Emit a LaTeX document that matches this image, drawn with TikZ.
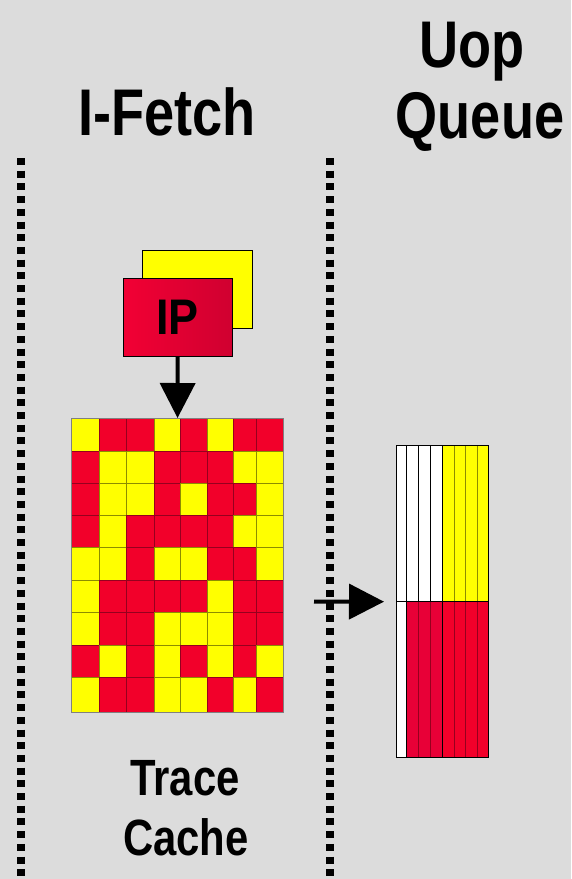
\documentclass[tikz,border=0pt]{standalone}
\usepackage{graphicx}
\usepackage{fontspec}
\setmainfont{Liberation Sans}
\usetikzlibrary{arrows.meta}
\definecolor{bgc}{RGB}{220,220,220}
\definecolor{cred}{RGB}{242,0,42}
\definecolor{cyel}{RGB}{255,255,0}
\definecolor{yedge}{RGB}{140,140,0}
\definecolor{redge}{RGB}{150,0,30}
\definecolor{ipl}{RGB}{242,0,52}
\definecolor{ipr}{RGB}{208,0,48}
\definecolor{qred}{RGB}{232,0,55}
\newcommand\mycond[1]{\scalebox{0.82}[1]{#1}}
\begin{document}
\begin{tikzpicture}[x=1pt,y=-1pt,
  lbl/.style={inner sep=0pt, anchor=base},
  headfont/.style={font=\bfseries\fontsize{66}{70}\selectfont},
  subfont/.style={font=\bfseries\fontsize{51}{55}\selectfont},
  divider/.style={line width=8pt, dash pattern=on 7pt off 5.7pt},
  bigarrow/.style={line width=4pt, -{Triangle[width=35pt,length=35pt]}},
  yc/.style={fill=cyel, draw=yedge, line width=1pt},
  rc/.style={fill=cred, draw=redge, line width=1pt},
  box/.style={inner sep=0pt, anchor=north west}]
\useasboundingbox (0,0) rectangle (571,879);
\fill[bgc] (0,0) rectangle (571,879);

% dotted dividers
\coordinate (d1a) at (21.3,158); \coordinate (d1b) at (21.3,879);
\coordinate (d2a) at (330.3,158); \coordinate (d2b) at (330.3,879);
\draw[divider] (d1a) -- (d1b);
\draw[divider] (d2a) -- (d2b);

% headings
\node[lbl, headfont] (ifetch) at (167,135) {\mycond{I-Fetch}};
\node[lbl, headfont] (uop) at (472,67) {\mycond{Uop}};
\node[lbl, headfont] (queue) at (480,138) {\mycond{Queue}};
\node[lbl, subfont] (trace) at (185,795) {\mycond{Trace}};
\node[lbl, subfont] (cache) at (186,855) {\mycond{Cache}};

% IP boxes
\node[box, draw=black, line width=1pt, fill=cyel, minimum width=109.4pt, minimum height=78.3pt] (ipback) at (142.3,250) {};
\node[box, draw=black, line width=1pt, left color=ipl, right color=ipr, minimum width=109pt, minimum height=78pt,
      font=\bfseries\fontsize{50}{54}\selectfont] (ip) at (122.7,277.7) {\scalebox{0.9}[1]{IP}};

% trace cache grid
\node[box, minimum width=211.3pt, minimum height=294pt] (tc) at (71.7,418) {};
\def\colx{71.7,99,126,154,180,207,233,256,283}
\def\rowy{418,451,483,515,547,580,612,645,677,712}
\foreach \row [count=\r] in {
  {1,0,0,1,0,1,0,0},
  {0,1,1,0,0,0,1,1},
  {0,1,1,0,1,0,0,1},
  {0,1,0,0,0,0,1,1},
  {1,1,0,1,1,0,0,1},
  {1,0,0,0,0,1,0,0},
  {1,0,0,1,1,1,0,0},
  {0,1,0,1,0,1,0,1},
  {1,0,0,1,1,0,1,0}} {
  \foreach \c [count=\k] in \row {
    \pgfmathsetmacro\xa{{\colx}[\k-1]}
    \pgfmathsetmacro\xb{{\colx}[\k]}
    \pgfmathsetmacro\ya{{\rowy}[\r-1]}
    \pgfmathsetmacro\yb{{\rowy}[\r]}
    \ifnum\c=1
      \draw[yc] (\xa,\ya) rectangle (\xb,\yb);
    \else
      \draw[rc] (\xa,\ya) rectangle (\xb,\yb);
    \fi
  }
}
\draw[gray, line width=0.8pt] (tc.north west) rectangle (tc.south east);

% IP -> trace cache
\draw[bigarrow] (ip.south) -- (tc.north);

% uop queue
\node[box, minimum width=92.3pt, minimum height=311.6pt] (uq) at (396,445.7) {};
\fill[white] (396,445.7) rectangle (442.3,601.7);
\fill[cyel] (442.3,445.7) rectangle (488.3,601.7);
\fill[white] (396,601.7) rectangle (406.7,757.3);
\fill[qred] (406.7,601.7) rectangle (442.3,757.3);
\fill[cred] (442.3,601.7) rectangle (488.3,757.3);
\foreach \x in {406.7,418.3,430} \draw[black, line width=1pt] (\x,445.7) -- (\x,601.7);
\foreach \x in {454,465,477.3} \draw[yedge, line width=1pt] (\x,445.7) -- (\x,601.7);
\foreach \x in {418.3,430,454,465,477.3} \draw[redge, line width=1pt] (\x,601.7) -- (\x,757.3);
\draw[black, line width=1pt] (406.7,601.7) -- (406.7,757.3);
\draw[black, line width=1pt] (442.3,445.7) -- (442.3,757.3);
\draw[black, line width=1pt] (uq.west) -- (uq.east);
\draw[black, line width=1pt] (uq.north west) rectangle (uq.south east);

% trace cache -> uop queue
\coordinate (qs) at (314,601.5);
\draw[bigarrow, shorten >=12pt] (qs) -- (uq.west);
\end{tikzpicture}
\end{document}
